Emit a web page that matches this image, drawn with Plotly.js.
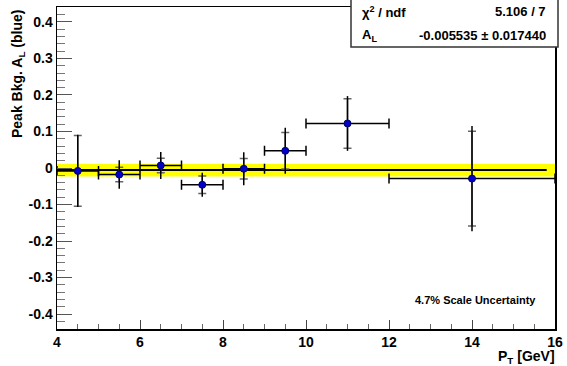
<!DOCTYPE html>
<html>
<head>
<meta charset="utf-8">
<script src="https://cdn.plot.ly/plotly-3.0.1.min.js"></script>
<style>html,body{margin:0;padding:0;background:#fff;}#chart{width:567px;height:366px;}</style>
</head>
<body>
<div id="chart"></div>
<script>
// ---- data ----
const ptCenters = [4.5, 5.5, 6.5, 7.5, 8.5, 9.5, 11, 14];
const ptHalfWidths = [0.5, 0.5, 0.5, 0.5, 0.5, 0.5, 1, 2];
const asymValues = [-0.008, -0.018, 0.007, -0.046, -0.002, 0.047, 0.122, -0.029];
const statErrors = [0.097, 0.020, 0.020, 0.024, 0.028, 0.050, 0.068, 0.130];
const totalErrors = [0.099, 0.039, 0.037, 0.033, 0.045, 0.063, 0.075, 0.144];
const fitValue = -0.005535;
const fitError = 0.017440;
const fitRange = [4, 15.8];
const bandRange = [4, 16];
const chi2 = 5.106;
const ndf = 7;
const scaleNote = "4.7% Scale Uncertainty";
const xTickVals = [4, 6, 8, 10, 12, 14, 16];
const xTickText = ["4", "6", "8", "10", "12", "14", "16"];
const yTickVals = [-0.4, -0.3, -0.2, -0.1, 0, 0.1, 0.2, 0.3, 0.4];
const yTickText = ["-0.4", "-0.3", "-0.2", "-0.1", "0", "0.1", "0.2", "0.3", "0.4"];

// ---- layout geometry ----
const W = 567, H = 366;
const M = {l: 57, r: 12, t: 7, b: 37};
const pw = W - M.l - M.r, ph = H - M.t - M.b;
const px2x = p => (p - M.l) / pw;
const py2y = p => (H - M.b - p) / ph;
const FONT = "Liberation Sans, Arial, Helvetica, sans-serif";

const traces = [
  { // uncertainty band of the fit
    x: [bandRange[0], bandRange[1], bandRange[1], bandRange[0]],
    y: [fitValue - fitError, fitValue - fitError, fitValue + fitError, fitValue + fitError],
    mode: 'lines', fill: 'toself', fillcolor: '#ffff00',
    line: {width: 0, color: '#ffff00'}, hoverinfo: 'skip'
  },
  { // fit line
    x: fitRange, y: [fitValue, fitValue],
    mode: 'lines', line: {color: '#000', width: 2}, hoverinfo: 'skip'
  },
  { // statistical errors with caps
    x: ptCenters, y: asymValues, mode: 'markers',
    marker: {size: 1, color: 'rgba(0,0,0,0)'},
    error_y: {type: 'data', array: statErrors, visible: true, color: '#666', thickness: 1.5, width: 4}
  },
  { // total errors, x bins, markers
    x: ptCenters, y: asymValues, mode: 'markers',
    marker: {size: 7, color: '#0000c8', line: {color: '#00006e', width: 1}},
    error_y: {type: 'data', array: totalErrors, visible: true, color: '#000', thickness: 1.5, width: 0},
    error_x: {type: 'data', array: ptHalfWidths, visible: true, color: '#000', thickness: 1.5, width: 5}
  }
];

const tickFont = {family: FONT, size: 14, weight: 'bold', color: '#000'};

const layout = {
  width: W, height: H, margin: M,
  paper_bgcolor: '#fff', plot_bgcolor: '#fff',
  showlegend: false,
  xaxis: {
    range: [4, 16], tickvals: xTickVals, ticktext: xTickText,
    ticks: 'inside', ticklen: 9, tickwidth: 1, tickcolor: '#444',
    minor: {tickvals: [4.5,5,5.5,6.5,7,7.5,8.5,9,9.5,10.5,11,11.5,12.5,13,13.5,14.5,15,15.5], ticks: 'inside', ticklen: 5, tickwidth: 1, tickcolor: '#666'},
    showline: true, linecolor: '#000', linewidth: 1.5, mirror: true,
    showgrid: false, zeroline: false, tickfont: tickFont
  },
  yaxis: {
    range: [-0.441, 0.441], tickvals: yTickVals, ticktext: yTickText,
    ticks: 'inside', ticklen: 15, tickwidth: 1, tickcolor: '#555',
    minor: {dtick: 0.02, ticks: 'inside', ticklen: 8, tickwidth: 1, tickcolor: '#777'},
    showline: true, linecolor: '#000', linewidth: 1.5, mirror: true,
    showgrid: false, zeroline: false, tickfont: tickFont
  },
  shapes: [
    {type: 'rect', xref: 'paper', yref: 'paper',
     x0: px2x(351), x1: px2x(558), y0: py2y(47), y1: py2y(-2),
     fillcolor: '#fff', line: {color: '#333', width: 1.5}, layer: 'above'}
  ],
  annotations: [
    {text: 'Peak Bkg. A<sub>L</sub> (blue)', textangle: -90, showarrow: false,
     xref: 'paper', yref: 'paper', x: px2x(18), y: py2y(8), xanchor: 'center', yanchor: 'top',
     font: {family: FONT, size: 14, weight: 'bold', color: '#000'}},
    {text: 'P<sub>T</sub> [GeV]', showarrow: false,
     xref: 'paper', yref: 'paper', x: px2x(557), y: py2y(357), xanchor: 'right', yanchor: 'middle',
     font: {family: FONT, size: 14, weight: 'bold', color: '#000'}},
    {text: '\u03C7<sup>2</sup> / ndf', showarrow: false,
     xref: 'paper', yref: 'paper', x: px2x(360), y: py2y(12), xanchor: 'left', yanchor: 'middle',
     font: {family: FONT, size: 13, weight: 'bold', color: '#000'}},
    {text: chi2.toFixed(3) + ' / ' + ndf, showarrow: false,
     xref: 'paper', yref: 'paper', x: px2x(548), y: py2y(12), xanchor: 'right', yanchor: 'middle',
     font: {family: FONT, size: 13, weight: 'bold', color: '#000'}},
    {text: 'A<sub>L</sub>', showarrow: false,
     xref: 'paper', yref: 'paper', x: px2x(360), y: py2y(35), xanchor: 'left', yanchor: 'middle',
     font: {family: FONT, size: 13, weight: 'bold', color: '#000'}},
    {text: fitValue.toFixed(6) + ' \u00B1 ' + fitError.toFixed(6), showarrow: false,
     xref: 'paper', yref: 'paper', x: px2x(548), y: py2y(35), xanchor: 'right', yanchor: 'middle',
     font: {family: FONT, size: 13, weight: 'bold', color: '#000'}},
    {text: scaleNote, showarrow: false,
     xref: 'paper', yref: 'paper', x: px2x(475), y: py2y(300), xanchor: 'center', yanchor: 'middle',
     font: {family: FONT, size: 11, weight: 'bold', color: '#000'}}
  ]
};

Plotly.newPlot('chart', traces, layout, {displayModeBar: false, staticPlot: true});
</script>
</body>
</html>
